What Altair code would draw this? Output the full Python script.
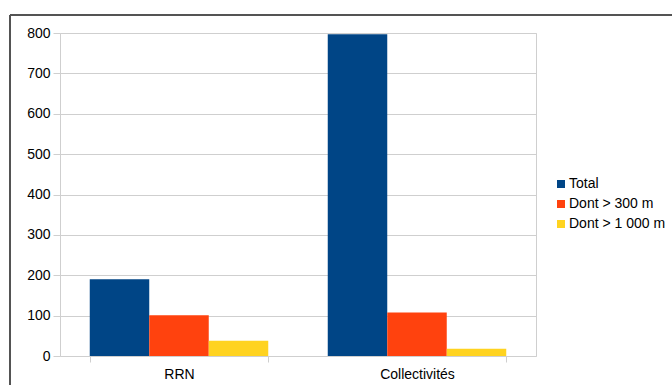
import altair as alt
import pandas as pd

categories = ["RRN", "Collectivités"]
series = ["Total", "Dont > 300 m", "Dont > 1 000 m"]
values_rrn = [190, 101, 38]
values_coll = [797, 108, 18]
colors = ["#004586", "#ff420e", "#ffd320"]

rows = []
for cat, vals in zip(categories, [values_rrn, values_coll]):
    for s, v in zip(series, vals):
        rows.append({"cat": cat, "serie": s, "val": v})
df = pd.DataFrame(rows)

FONT = "Liberation Sans"
GRID = "#cfcfcf"

bars = alt.Chart(df).mark_bar(stroke=None).encode(
    x=alt.X("cat:N", sort=categories, title=None,
            scale=alt.Scale(paddingInner=0.25, paddingOuter=0.125),
            axis=alt.Axis(labelAngle=0, tickBand="extent", ticks=True, tickSize=6,
                          tickColor=GRID, domain=False, labelPadding=5,
                          labelFontSize=14, labelFont=FONT, labelColor="#000000")),
    xOffset=alt.XOffset("serie:N", sort=series),
    y=alt.Y("val:Q", title=None,
            scale=alt.Scale(domain=[0, 800], nice=False),
            axis=alt.Axis(values=list(range(0, 801, 100)), tickSize=7, tickColor=GRID,
                          gridColor=GRID, domain=False, labelPadding=3,
                          labelFontSize=14, labelFont=FONT, labelColor="#000000")),
    color=alt.Color("serie:N", sort=series,
                    scale=alt.Scale(domain=series, range=colors),
                    legend=alt.Legend(title=None, orient="none", legendX=494, legendY=144,
                                      symbolType="square", symbolSize=64, symbolStrokeWidth=0,
                                      labelFontSize=14, labelFont=FONT, labelColor="#000000",
                                      rowPadding=6, padding=0, labelOffset=1)),
)

frame_left = alt.Chart(df).mark_rule(color="#555555", strokeWidth=1.5).encode(
    x=alt.value(-50), y=alt.value(-18), y2=alt.value(400))
frame_top = alt.Chart(df).mark_rule(color="#555555", strokeWidth=1.5).encode(
    y=alt.value(-18), x=alt.value(-50), x2=alt.value(700))

chart = alt.layer(frame_left, frame_top, bars).properties(
    width=476, height=323,
    autosize=alt.AutoSizeParams(type="none"),
    padding={"left": 60, "top": 33, "right": 136, "bottom": 29},
    background="white",
).configure_view(stroke=GRID)

chart.save("out.html", embed_options={"renderer": "svg", "actions": False})
